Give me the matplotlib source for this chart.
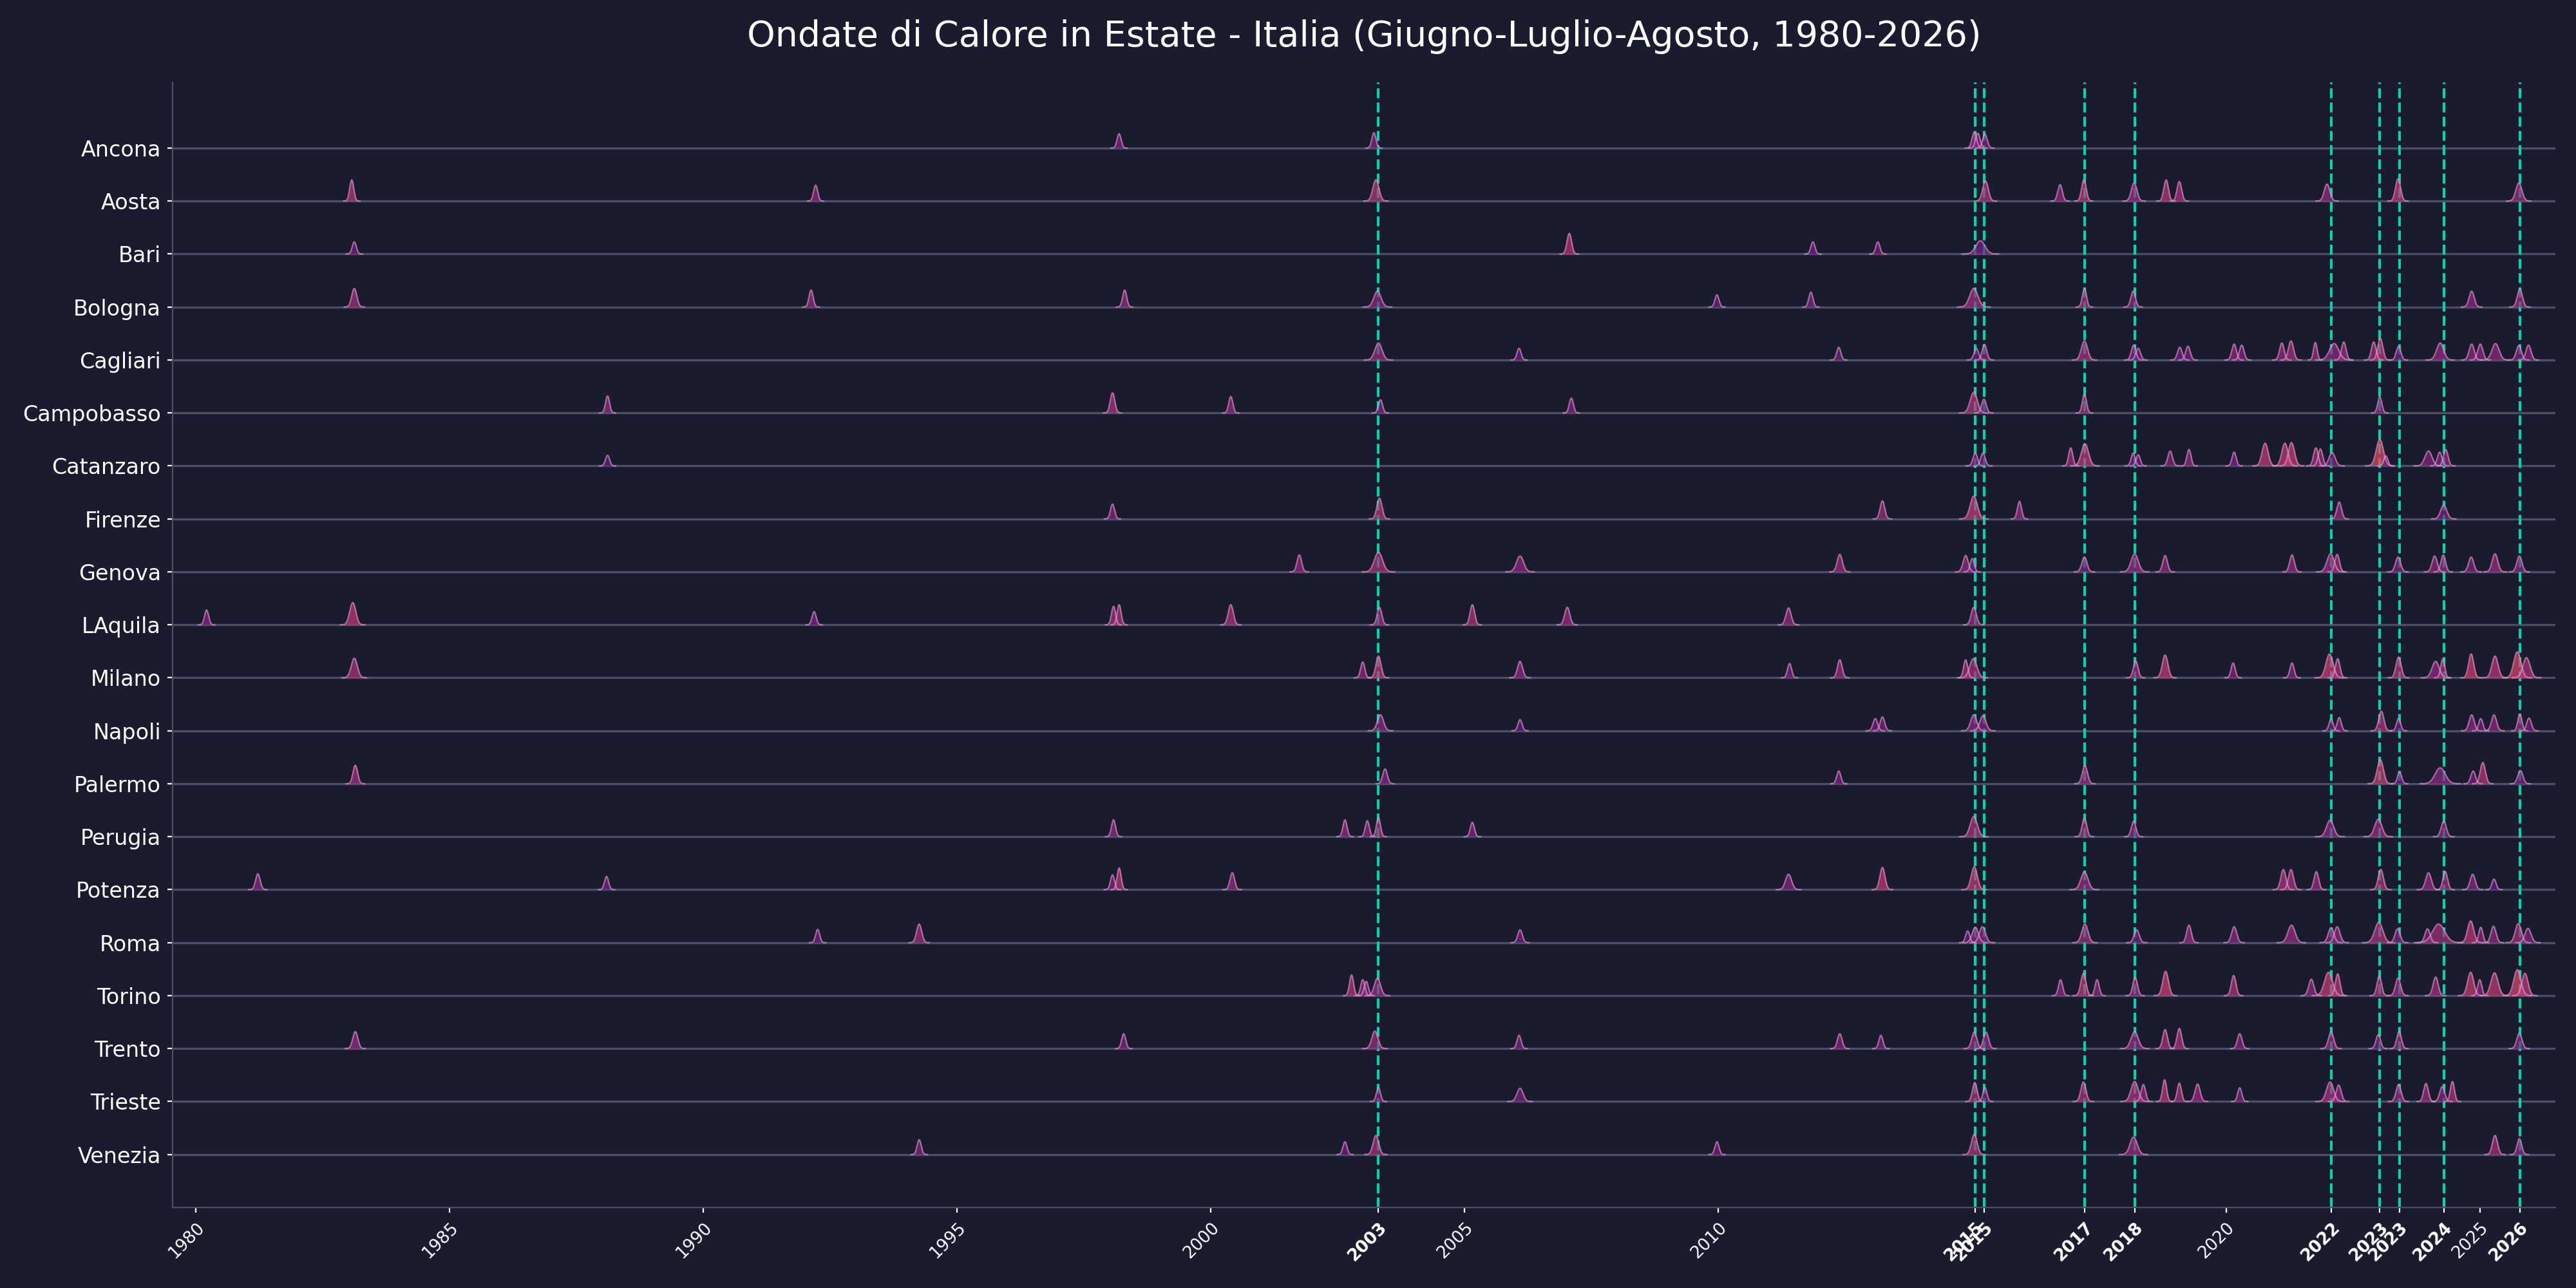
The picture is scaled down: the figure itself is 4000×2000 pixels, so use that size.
import numpy as np
import matplotlib.pyplot as plt

# heat waves per city: (centre in years, peak height in row units, width)
cities = ['Ancona', 'Aosta', 'Bari', 'Bologna', 'Cagliari', 'Campobasso', 'Catanzaro',
          'Firenze', 'Genova', 'LAquila', 'Milano', 'Napoli', 'Palermo', 'Perugia',
          'Potenza', 'Roma', 'Torino', 'Trento', 'Trieste', 'Venezia']

ancona = [(1998.19, 0.27, 0.04), (2003.21, 0.29, 0.04), (2015.04, 0.30, 0.045),
          (2015.11, 0.28, 0.045), (2015.25, 0.26, 0.045)]
aosta = [(1983.07, 0.40, 0.04), (1992.21, 0.30, 0.04), (2003.25, 0.40, 0.06),
         (2015.26, 0.38, 0.055), (2016.73, 0.31, 0.045), (2017.20, 0.40, 0.045),
         (2018.19, 0.34, 0.055), (2018.82, 0.40, 0.045), (2019.08, 0.37, 0.045),
         (2021.99, 0.32, 0.055), (2023.39, 0.42, 0.05), (2025.77, 0.34, 0.06)]
bari = [(1983.12, 0.23, 0.04), (2007.06, 0.39, 0.045), (2011.86, 0.23, 0.04),
        (2013.14, 0.23, 0.04), (2015.16, 0.25, 0.09)]
bologna = [(1983.12, 0.35, 0.05), (1992.12, 0.32, 0.04), (1998.30, 0.32, 0.04),
           (2003.28, 0.30, 0.07), (2009.97, 0.23, 0.04), (2011.82, 0.28, 0.04),
           (2015.03, 0.35, 0.08), (2017.21, 0.35, 0.04), (2018.17, 0.30, 0.045),
           (2024.84, 0.30, 0.05), (2025.79, 0.34, 0.05)]
cagliari = [(2003.30, 0.32, 0.07), (2006.07, 0.22, 0.04), (2012.37, 0.24, 0.04),
            (2015.08, 0.22, 0.045), (2015.24, 0.29, 0.045), (2017.21, 0.36, 0.06),
            (2018.18, 0.28, 0.045), (2018.27, 0.22, 0.045), (2019.09, 0.24, 0.045),
            (2019.25, 0.26, 0.045), (2020.16, 0.30, 0.045), (2020.31, 0.28, 0.045),
            (2021.10, 0.32, 0.045), (2021.28, 0.36, 0.05), (2021.76, 0.33, 0.035),
            (2022.13, 0.31, 0.09), (2022.32, 0.34, 0.045), (2022.91, 0.34, 0.045),
            (2023.04, 0.41, 0.05), (2023.40, 0.25, 0.045), (2024.22, 0.32, 0.07),
            (2024.84, 0.30, 0.05), (2025.01, 0.30, 0.05), (2025.31, 0.31, 0.07),
            (2025.77, 0.27, 0.05), (2025.96, 0.28, 0.05)]
campobasso = [(1988.11, 0.32, 0.04), (1998.06, 0.38, 0.045), (2000.39, 0.31, 0.04),
              (2003.34, 0.25, 0.04), (2007.10, 0.28, 0.04), (2015.03, 0.39, 0.07),
              (2015.23, 0.26, 0.045), (2017.21, 0.35, 0.04), (2023.03, 0.30, 0.04)]
catanzaro = [(1988.11, 0.20, 0.04), (2015.06, 0.24, 0.045), (2015.21, 0.24, 0.045),
             (2016.94, 0.34, 0.04), (2017.22, 0.42, 0.07), (2018.17, 0.24, 0.04),
             (2018.27, 0.21, 0.04), (2018.90, 0.28, 0.045), (2019.27, 0.31, 0.04),
             (2020.16, 0.26, 0.04), (2020.77, 0.43, 0.06), (2021.16, 0.43, 0.06),
             (2021.29, 0.44, 0.06), (2021.77, 0.34, 0.045), (2021.86, 0.32, 0.045),
             (2022.09, 0.25, 0.06), (2023.03, 0.50, 0.07), (2023.15, 0.19, 0.04),
             (2023.99, 0.28, 0.07), (2024.21, 0.26, 0.045), (2024.33, 0.31, 0.045)]
firenze = [(1998.06, 0.28, 0.04), (2003.32, 0.39, 0.05), (2013.23, 0.34, 0.045),
           (2015.03, 0.43, 0.07), (2015.93, 0.33, 0.04), (2022.23, 0.32, 0.045),
           (2024.29, 0.26, 0.06)]
genova = [(2001.74, 0.32, 0.045), (2003.30, 0.37, 0.08), (2006.09, 0.30, 0.07),
          (2012.39, 0.33, 0.05), (2014.87, 0.31, 0.05), (2015.00, 0.25, 0.04),
          (2017.21, 0.28, 0.05), (2018.20, 0.34, 0.07), (2018.80, 0.31, 0.045),
          (2021.30, 0.32, 0.045), (2022.06, 0.34, 0.07), (2022.19, 0.33, 0.045),
          (2023.39, 0.28, 0.05), (2024.11, 0.30, 0.05), (2024.28, 0.32, 0.045),
          (2024.83, 0.28, 0.05), (2025.30, 0.34, 0.055), (2025.78, 0.30, 0.05)]
laquila = [(1980.21, 0.28, 0.04), (1983.09, 0.42, 0.06), (1992.18, 0.25, 0.04),
           (1998.08, 0.35, 0.04), (1998.19, 0.38, 0.04), (2000.39, 0.38, 0.05),
           (2003.32, 0.33, 0.045), (2005.15, 0.38, 0.045), (2007.02, 0.33, 0.05),
           (2011.38, 0.32, 0.05), (2015.03, 0.33, 0.05)]
milano = [(1983.12, 0.37, 0.06), (2002.99, 0.30, 0.04), (2003.30, 0.41, 0.05),
          (2006.09, 0.31, 0.05), (2011.40, 0.27, 0.04), (2012.39, 0.34, 0.045),
          (2014.87, 0.34, 0.04), (2015.02, 0.36, 0.07), (2018.22, 0.32, 0.045),
          (2018.80, 0.43, 0.055), (2020.14, 0.28, 0.04), (2021.30, 0.28, 0.04),
          (2022.04, 0.45, 0.07), (2022.20, 0.36, 0.045), (2023.40, 0.39, 0.05),
          (2024.13, 0.31, 0.07), (2024.27, 0.35, 0.04), (2024.83, 0.45, 0.05),
          (2025.30, 0.41, 0.06), (2025.74, 0.49, 0.07), (2025.92, 0.38, 0.07)]
napoli = [(2003.34, 0.30, 0.06), (2006.09, 0.21, 0.04), (2013.09, 0.23, 0.045),
          (2013.23, 0.26, 0.045), (2015.03, 0.30, 0.06), (2015.21, 0.28, 0.06),
          (2022.07, 0.22, 0.04), (2022.23, 0.25, 0.04), (2023.06, 0.37, 0.05),
          (2023.40, 0.23, 0.04), (2024.84, 0.30, 0.05), (2025.02, 0.23, 0.04),
          (2025.28, 0.30, 0.05), (2025.79, 0.32, 0.04), (2025.97, 0.24, 0.045)]
palermo = [(1983.14, 0.35, 0.045), (2003.43, 0.28, 0.045), (2012.37, 0.24, 0.04),
           (2017.22, 0.34, 0.05), (2023.04, 0.45, 0.06), (2023.42, 0.22, 0.04),
           (2024.22, 0.30, 0.1), (2024.87, 0.24, 0.045), (2025.06, 0.40, 0.05),
           (2025.80, 0.25, 0.05)]
perugia = [(1998.08, 0.32, 0.04), (2002.64, 0.32, 0.04), (2003.08, 0.30, 0.04),
           (2003.30, 0.36, 0.04), (2005.15, 0.27, 0.04), (2015.03, 0.38, 0.07),
           (2017.21, 0.35, 0.045), (2018.18, 0.29, 0.045), (2022.05, 0.31, 0.07),
           (2023.00, 0.33, 0.07), (2024.29, 0.29, 0.05)]
potenza = [(1981.22, 0.30, 0.045), (1988.09, 0.25, 0.04), (1998.06, 0.28, 0.04),
           (1998.19, 0.41, 0.04), (2000.42, 0.32, 0.045), (2011.38, 0.29, 0.06),
           (2013.23, 0.42, 0.05), (2015.04, 0.43, 0.06), (2017.21, 0.33, 0.07),
           (2021.13, 0.38, 0.05), (2021.28, 0.38, 0.05), (2021.78, 0.34, 0.045),
           (2023.05, 0.38, 0.05), (2023.99, 0.32, 0.055), (2024.32, 0.34, 0.045),
           (2024.86, 0.29, 0.05), (2025.28, 0.20, 0.04)]
roma = [(1992.25, 0.25, 0.04), (1994.25, 0.35, 0.05), (2006.09, 0.24, 0.045),
        (2014.91, 0.22, 0.04), (2015.06, 0.29, 0.06), (2015.20, 0.30, 0.06),
        (2017.22, 0.35, 0.06), (2018.24, 0.24, 0.05), (2019.27, 0.33, 0.045),
        (2020.16, 0.30, 0.05), (2021.29, 0.33, 0.07), (2022.07, 0.28, 0.055),
        (2022.19, 0.30, 0.055), (2023.01, 0.38, 0.08), (2023.38, 0.26, 0.05),
        (2023.97, 0.26, 0.05), (2024.19, 0.35, 0.12), (2024.82, 0.41, 0.06),
        (2025.02, 0.29, 0.04), (2025.27, 0.31, 0.05), (2025.76, 0.36, 0.06),
        (2025.95, 0.27, 0.06)]
torino = [(2002.77, 0.39, 0.04), (2002.99, 0.30, 0.04), (2003.06, 0.27, 0.04),
          (2003.28, 0.33, 0.06), (2016.74, 0.30, 0.04), (2017.19, 0.42, 0.05),
          (2017.46, 0.30, 0.04), (2018.21, 0.34, 0.045), (2018.81, 0.46, 0.055),
          (2020.15, 0.38, 0.045), (2021.68, 0.31, 0.05), (2022.02, 0.44, 0.08),
          (2022.20, 0.41, 0.045), (2023.02, 0.36, 0.045), (2023.39, 0.33, 0.05),
          (2024.13, 0.35, 0.05), (2024.82, 0.44, 0.06), (2025.00, 0.30, 0.04),
          (2025.29, 0.43, 0.07), (2025.74, 0.49, 0.07), (2025.89, 0.42, 0.06)]
trento = [(1983.14, 0.32, 0.05), (1998.28, 0.28, 0.04), (2003.23, 0.33, 0.06),
          (2006.07, 0.25, 0.04), (2012.39, 0.28, 0.045), (2013.20, 0.25, 0.04),
          (2015.04, 0.31, 0.05), (2015.27, 0.31, 0.05), (2018.20, 0.32, 0.07),
          (2018.80, 0.36, 0.045), (2019.08, 0.38, 0.045), (2020.27, 0.28, 0.045),
          (2022.07, 0.32, 0.05), (2023.00, 0.26, 0.045), (2023.41, 0.32, 0.045),
          (2025.78, 0.29, 0.05)]
trieste = [(2003.30, 0.26, 0.04), (2006.09, 0.25, 0.06), (2015.05, 0.36, 0.045),
           (2015.25, 0.26, 0.04), (2017.19, 0.37, 0.05), (2018.20, 0.38, 0.07),
           (2018.37, 0.32, 0.045), (2018.79, 0.41, 0.04), (2019.08, 0.35, 0.04),
           (2019.44, 0.33, 0.05), (2020.27, 0.26, 0.04), (2022.05, 0.37, 0.07),
           (2022.22, 0.31, 0.05), (2023.40, 0.32, 0.05), (2023.94, 0.34, 0.045),
           (2024.26, 0.28, 0.05), (2024.46, 0.38, 0.04)]
venezia = [(1994.25, 0.28, 0.04), (2002.64, 0.24, 0.04), (2003.25, 0.36, 0.055),
           (2009.97, 0.24, 0.04), (2015.04, 0.38, 0.055), (2018.18, 0.33, 0.07),
           (2025.30, 0.36, 0.05), (2025.78, 0.30, 0.045)]

waves = [ancona, aosta, bari, bologna, cagliari, campobasso, catanzaro, firenze, genova,
         laquila, milano, napoli, palermo, perugia, potenza, roma, torino, trento,
         trieste, venezia]

# national heat wave markers (dashed lines)
events = [2003.30, 2015.06, 2015.24, 2017.22, 2018.20, 2022.08, 2023.03, 2023.42,
          2024.29, 2025.79]
regular_years = [1980, 1985, 1990, 1995, 2000, 2005, 2010, 2020, 2025]

bg = '#1a1b2e'
fig, ax = plt.subplots(figsize=(20, 10), facecolor=bg)
ax.set_facecolor(bg)
fig.subplots_adjust(left=0.067, right=0.992, top=0.936, bottom=0.0625)

n = len(cities)
for i, city in enumerate(cities):
    y0 = n - 1 - i
    ax.axhline(y0, color='#4a4e69', lw=1.2, zorder=1)
    for c, h, w in waves[i]:
        xs = np.linspace(c - 4 * w, c + 4 * w, 200)
        ys = y0 + h * np.exp(-0.5 * ((xs - c) / w) ** 2)
        col = plt.cm.magma(0.3 + 0.3 * np.clip((h - 0.2) / 0.3, 0, 1))
        ax.fill_between(xs, y0, ys, color=col, alpha=0.72, lw=0, zorder=3)
        ax.plot(xs, ys, color='#e596cc', lw=0.8, alpha=0.65, zorder=4)

for e in events:
    ax.axvline(e, color='#00d4aa', ls='--', lw=1.5, zorder=2)

ticks = sorted(regular_years + events)
ax.set_xticks(ticks)
ax.set_xticklabels([str(int(round(t))) for t in ticks])
for t, lab in zip(ticks, ax.get_xticklabels()):
    lab.set_rotation(45)
    lab.set_ha('right')
    lab.set_rotation_mode('anchor')
    lab.set_color('white')
    lab.set_fontsize(9.5)
    if t in events:
        lab.set_fontweight('bold')

ax.set_yticks(range(n))
ax.set_yticklabels(cities[::-1], color='white', fontsize=12)
ax.tick_params(colors='white', length=3)
ax.set_xlim(1979.54, 2026.49)
ax.set_ylim(-1.0, n + 0.24)

for s in ['top', 'right']:
    ax.spines[s].set_visible(False)
for s in ['left', 'bottom']:
    ax.spines[s].set_color('#4a4e69')

ax.set_title('Ondate di Calore in Estate - Italia (Giugno-Luglio-Agosto, 1980-2026)',
             color='white', fontsize=20, pad=20)

fig.savefig('out.png', dpi=200, facecolor=bg)
